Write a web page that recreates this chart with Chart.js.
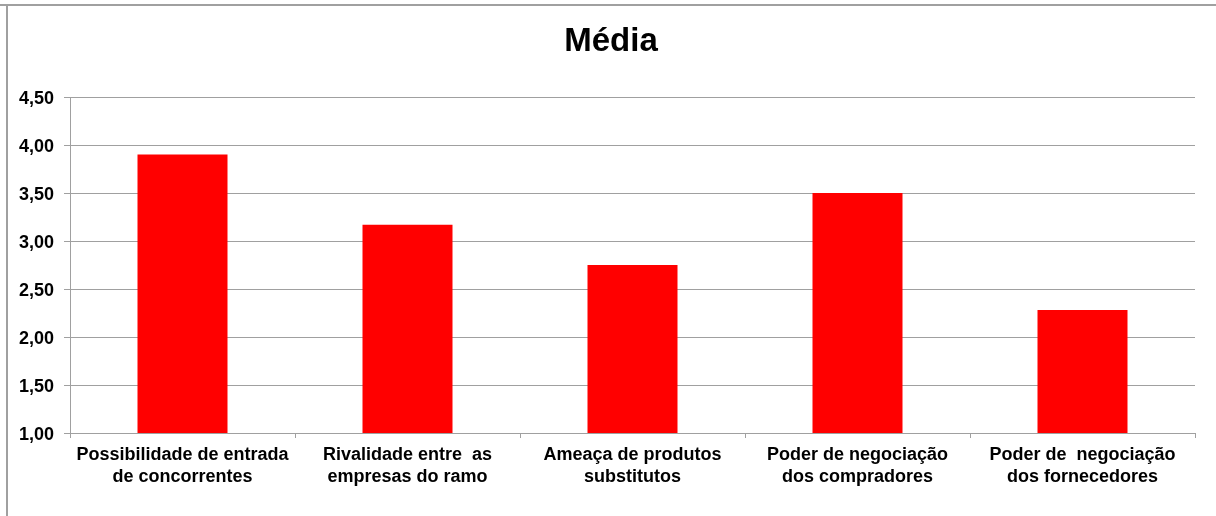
<!DOCTYPE html>
<html>
<head>
<meta charset="utf-8">
<script src="https://cdn.jsdelivr.net/npm/chart.js@4/dist/chart.umd.min.js"></script>
<style>
  html, body { margin: 0; padding: 0; background: #fff; }
  #wrap { position: relative; width: 1216px; height: 516px; overflow: hidden; }
  #frameTop { position: absolute; left: 0; top: 4px; width: 1216px; height: 2px; background: #a0a0a0; }
  #frameLeft { position: absolute; left: 6px; top: 4px; width: 2px; height: 512px; background: #a0a0a0; }
  canvas { position: absolute; left: 0; top: 0; }
</style>
</head>
<body>
<div id="wrap">
  <canvas id="c" width="1216" height="516"></canvas>
  <div id="frameTop"></div>
  <div id="frameLeft"></div>
</div>
<script>
const chartTitle = 'Média';
const categories = [
  ['Possibilidade de entrada', 'de concorrentes'],
  ['Rivalidade entre  as', 'empresas do ramo'],
  ['Ameaça de produtos', 'substitutos'],
  ['Poder de negociação', 'dos compradores'],
  ['Poder de  negociação', 'dos fornecedores']
];
const mediaValues = [3.90, 3.17, 2.75, 3.50, 2.28];
const yMin = 1.0;
const yMax = 4.5;
const yStep = 0.5;

const FONT = "'Liberation Sans', Arial, sans-serif";

// Title drawn centred on the whole frame (not the padded layout box)
const frameTitle = {
  id: 'frameTitle',
  afterDraw(chart) {
    const ctx = chart.ctx;
    ctx.save();
    ctx.font = "bold 33px " + FONT;
    ctx.fillStyle = '#000';
    ctx.textAlign = 'center';
    ctx.textBaseline = 'middle';
    ctx.fillText(chartTitle, chart.width / 2 + 3, 42);
    ctx.restore();
  }
};

new Chart(document.getElementById('c'), {
  type: 'bar',
  data: {
    labels: categories,
    datasets: [{
      label: chartTitle,
      data: mediaValues,
      backgroundColor: '#ff0000',
      borderWidth: 0,
      barPercentage: 0.4,
      categoryPercentage: 1.0
    }]
  },
  plugins: [frameTitle],
  options: {
    responsive: false,
    animation: false,
    layout: { padding: { left: 0, right: 21, top: 97, bottom: 0 } },
    plugins: {
      legend: { display: false },
      tooltip: { enabled: false },
      title: { display: false }
    },
    scales: {
      x: {
        grid: {
          drawOnChartArea: false,
          drawTicks: true,
          tickLength: 5,
          color: '#a0a0a0',
          offset: true
        },
        border: { color: '#a0a0a0', width: 1 },
        ticks: {
          color: '#000',
          font: { family: FONT, size: 18, weight: 'bold', lineHeight: 1.22 },
          padding: 6,
          maxRotation: 0,
          autoSkip: false
        },
        afterFit: (s) => { s.height = 83; }
      },
      y: {
        min: yMin,
        max: yMax,
        grid: {
          color: '#a0a0a0',
          lineWidth: 1,
          drawTicks: true,
          tickLength: 6
        },
        border: { color: '#a0a0a0', width: 1 },
        ticks: {
          stepSize: yStep,
          color: '#000',
          padding: 10,
          labelOffset: 2,
          font: { family: FONT, size: 18, weight: 'bold' },
          callback: (v) => Number(v).toFixed(2).replace('.', ',')
        },
        afterFit: (s) => { s.width = 70; }
      }
    }
  }
});
</script>
</body>
</html>
